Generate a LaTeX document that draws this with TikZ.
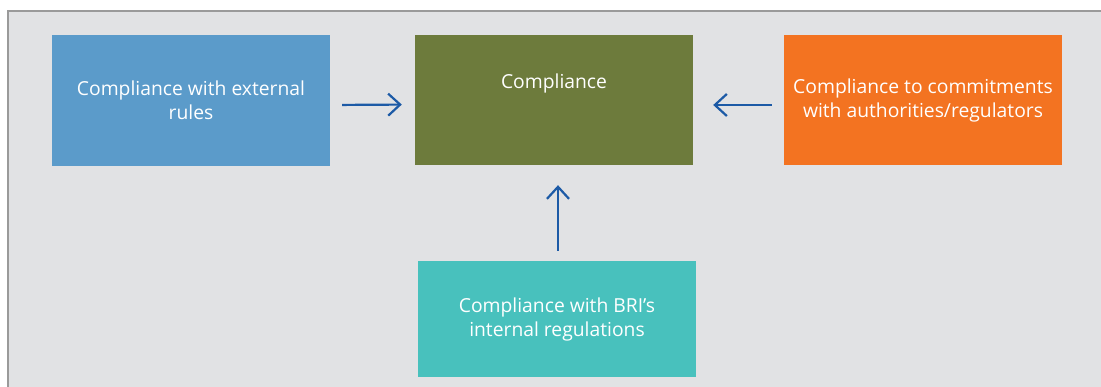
\documentclass[tikz,border=0pt]{standalone}
\usepackage{fontspec}
\setmainfont{Open Sans}
\usetikzlibrary{arrows.meta,calc}
\definecolor{bg}{HTML}{E1E2E4}
\definecolor{frame}{HTML}{9A9A9A}
\definecolor{cblue}{HTML}{5B9BCA}
\definecolor{colive}{HTML}{6D7B3C}
\definecolor{corange}{HTML}{F37321}
\definecolor{cteal}{HTML}{48C1BD}
\definecolor{arrowc}{HTML}{1C5AA6}
\tikzset{
  boxfont/.style={font=\fontsize{19.3}{24}\selectfont},
  box/.style={draw=none, minimum width=278pt, minimum height=130pt, inner sep=0pt,
    text=white, boxfont, align=center},
  arr/.style={draw=arrowc, line width=2.2pt, -{Straight Barb[length=12pt,width=22pt,line width=2.2pt]}},
}
\begin{document}
\begin{tikzpicture}[x=1pt,y=-1pt]
\useasboundingbox (0,0) rectangle (1101,387);
\fill[white] (0,0) rectangle (1101,387);
\fill[bg] (8,11) rectangle (1101,387);
\draw[frame, line width=2.5pt] (8,387) -- (8,11) -- (1101,11);
\node[box, fill=cblue, minimum height=131pt] (blue) at (191,100.5) {Compliance with external\\rules};
\node[box, fill=colive, label={[text=white, boxfont, yshift=-49pt, anchor=center]north:Compliance}] (olive) at (554,100) {};
\node[box, fill=corange] (orange) at (923,100) {Compliance to commitments\\with authorities/regulators};
\node[box, fill=cteal, minimum height=116pt] (teal) at (557,319) {Compliance with BRI’s\\internal regulations};
\draw[arr, shorten <=12pt, shorten >=13pt] ([yshift=-4.5pt]blue.east) -- ([yshift=-4.5pt]olive.west);
\draw[arr, shorten <=12pt, shorten >=20pt] ([yshift=-5pt]orange.west) -- ([yshift=-5pt]olive.east);
\draw[arr, shorten <=10pt, shorten >=20pt] ([xshift=1pt]teal.north) -- ([xshift=1pt]teal.north |- olive.south);
\end{tikzpicture}
\end{document}
